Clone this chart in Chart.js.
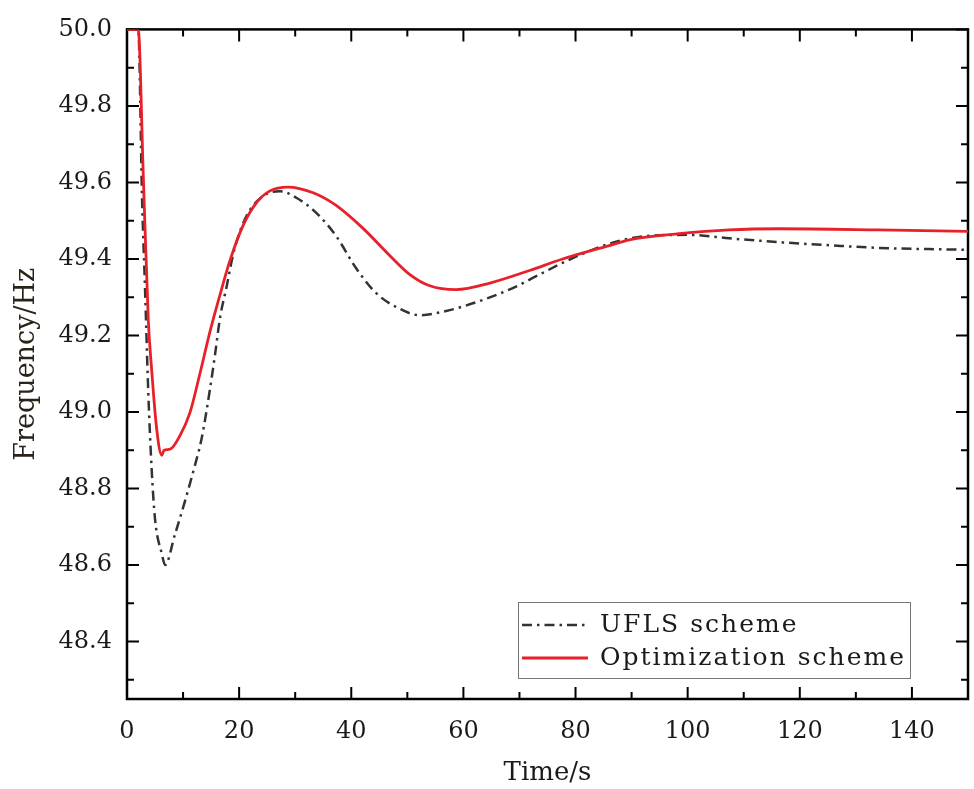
<!DOCTYPE html>
<html>
<head>
<meta charset="utf-8">
<script src="https://cdn.jsdelivr.net/npm/chart.js@4"></script>
<style>
  html, body { margin: 0; padding: 0; background: #fff; }
  #wrap { width: 974px; height: 789px; position: relative; }
</style>
</head>
<body>
<div id="wrap"><canvas id="chart"></canvas></div>
<script>
// values
const uflsTime = [0, 2.0, 2.7, 3.2, 3.8, 4.4, 5.0, 6.2, 6.8, 8.55, 10.3, 12.1, 13.3, 14.8, 15.7, 16.6, 17.8, 18.9, 20.1, 21.6, 24.3, 27.3, 30.2, 33.8, 37.3, 40.9, 44.5, 48.6, 52.2, 56.9, 62.9, 68.8, 73, 77.7, 80.7, 86, 92.6, 100.3, 107.4, 116.3, 125.2, 134, 150];
const uflsFreq = [50.0, 50.0, 49.55, 49.33, 49.05, 48.85, 48.72, 48.63, 48.60, 48.68, 48.765, 48.86, 48.93, 49.06, 49.15, 49.247, 49.33, 49.41, 49.47, 49.52, 49.565, 49.577, 49.56, 49.52, 49.46, 49.375, 49.31, 49.27, 49.253, 49.264, 49.29, 49.324, 49.355, 49.39, 49.41, 49.44, 49.46, 49.463, 49.454, 49.444, 49.436, 49.429, 49.424];

const optTime = [0, 2.0, 2.9, 3.8, 4.4, 5.3, 6.2, 6.6, 7.7, 9.4, 11.2, 13.0, 14.8, 16.6, 18.3, 20.7, 23.1, 25.5, 28.7, 33.2, 37.3, 42.1, 46.8, 50.4, 54, 58.7, 64.7, 71.8, 77.7, 86, 89.6, 98.5, 107.4, 116.3, 134, 150];
const optFreq = [50.0, 50.0, 49.62, 49.24, 49.11, 48.955, 48.887, 48.90, 48.903, 48.937, 48.997, 49.10, 49.21, 49.307, 49.393, 49.487, 49.547, 49.578, 49.588, 49.573, 49.54, 49.48, 49.41, 49.36, 49.33, 49.32, 49.337, 49.37, 49.40, 49.435, 49.45, 49.466, 49.476, 49.479, 49.476, 49.472];

const seriesNames = ['UFLS scheme', 'Optimization scheme'];
const xTicks = [0, 20, 40, 60, 80, 100, 120, 140];
const yTicks = [48.4, 48.6, 48.8, 49.0, 49.2, 49.4, 49.6, 49.8, 50.0];

const toPoints = (xs, ys) => xs.map((x, i) => ({ x: x, y: ys[i] }));

const FONT = '"DejaVu Serif", "Liberation Serif", serif';
const INK = '#1a1a1a';

// box, inward tick marks on all four sides, legend inside the plot
const framePlugin = {
  id: 'frame',
  beforeDatasetsDraw(chart) {
    const { ctx, chartArea: a, scales: { x, y } } = chart;
    ctx.save();
    ctx.strokeStyle = '#000';
    ctx.lineWidth = 2;
    ctx.beginPath();
    const xs = [];
    for (let i = 0; i < xTicks.length; i++) {
      xs.push([xTicks[i], 12]);
      const next = i + 1 < xTicks.length ? xTicks[i + 1] : xTicks[i] + 20;
      xs.push([(xTicks[i] + next) / 2, 7]);
    }
    xs.forEach(([v, len]) => {
      if (v >= x.max) return;
      const px = x.getPixelForValue(v);
      ctx.moveTo(px, a.bottom); ctx.lineTo(px, a.bottom - len);
      ctx.moveTo(px, a.top); ctx.lineTo(px, a.top + len);
    });
    const ys = [[yTicks[0] - 0.1, 7]];
    yTicks.forEach((v, i) => {
      ys.push([v, 12]);
      if (i + 1 < yTicks.length) ys.push([(v + yTicks[i + 1]) / 2, 7]);
    });
    ys.forEach(([v, len]) => {
      if (v < y.min) return;
      const py = y.getPixelForValue(v);
      ctx.moveTo(a.left, py); ctx.lineTo(a.left + len, py);
      ctx.moveTo(a.right, py); ctx.lineTo(a.right - len, py);
    });
    ctx.stroke();
    ctx.lineWidth = 2.5;
    ctx.strokeRect(a.left, a.top, a.right - a.left, a.bottom - a.top);
    ctx.restore();
  },
  afterDraw(chart) {
    const { ctx, chartArea: a } = chart;
    const boxW = 392, boxH = 76;
    const bx = a.right - 58 - boxW, by = a.bottom - 21 - boxH;
    ctx.save();
    ctx.fillStyle = '#fff';
    ctx.fillRect(bx, by, boxW, boxH);
    ctx.strokeStyle = '#777';
    ctx.lineWidth = 1;
    ctx.strokeRect(bx + 0.5, by + 0.5, boxW, boxH);
    ctx.font = '25px ' + FONT;
    ctx.textBaseline = 'middle';
    ctx.fillStyle = INK;
    // spread letters like the wide CJK-style font of the original
    const longest = seriesNames.reduce((m, s) => Math.max(m, ctx.measureText(s).width), 0);
    const longestLen = seriesNames.reduce((m, s) => Math.max(m, s.length), 0);
    const gap = Math.max(0, (304 - longest) / (longestLen - 1));
    chart.data.datasets.forEach((ds, i) => {
      const cy = by + 23 + i * 33;
      ctx.strokeStyle = ds.borderColor;
      ctx.lineWidth = ds.borderWidth;
      ctx.setLineDash(ds.borderDash || []);
      ctx.beginPath();
      ctx.moveTo(bx + 4, cy); ctx.lineTo(bx + 70, cy);
      ctx.stroke();
      ctx.setLineDash([]);
      let tx = bx + 82;
      for (const ch of ds.label) {
        ctx.fillText(ch, tx, cy);
        tx += ctx.measureText(ch).width + gap;
      }
    });
    ctx.restore();
  }
};

new Chart(document.getElementById('chart'), {
  type: 'line',
  data: {
    datasets: [
      {
        label: seriesNames[0],
        data: toPoints(uflsTime, uflsFreq),
        borderColor: '#333333',
        borderWidth: 2.5,
        borderDash: [10, 5, 2.5, 5],
        pointRadius: 0,
        cubicInterpolationMode: 'monotone',
        order: 2
      },
      {
        label: seriesNames[1],
        data: toPoints(optTime, optFreq),
        borderColor: '#e8202a',
        borderWidth: 2.8,
        pointRadius: 0,
        cubicInterpolationMode: 'monotone',
        order: 1
      }
    ]
  },
  options: {
    responsive: true,
    maintainAspectRatio: false,
    animation: false,
    layout: { padding: { top: 21, right: 6, left: 0, bottom: 0 } },
    plugins: {
      legend: { display: false },
      tooltip: { enabled: false }
    },
    scales: {
      x: {
        type: 'linear',
        min: 0,
        max: 150,
        afterBuildTicks: (s) => { s.ticks = xTicks.map(v => ({ value: v })); },
        afterFit: (s) => { s.height = 90; },
        grid: { display: false, drawTicks: false },
        border: { display: false },
        ticks: { padding: 18, color: INK, font: { family: FONT, size: 24 }, maxRotation: 0 },
        title: { display: true, text: 'Time/s', color: INK, font: { family: FONT, size: 26 }, padding: 0 }
      },
      y: {
        min: 48.25,
        max: 50.0,
        afterBuildTicks: (s) => { s.ticks = yTicks.map(v => ({ value: v })); },
        afterFit: (s) => { s.width = 127; },
        grid: { display: false, drawTicks: false },
        border: { display: false },
        ticks: { padding: 15, color: INK, font: { family: FONT, size: 24 }, callback: (v) => Number(v).toFixed(1) },
        title: { display: true, text: 'Frequency/Hz', color: '#2a2418', font: { family: FONT, size: 27 }, padding: { top: 11, bottom: 0 } }
      }
    }
  },
  plugins: [framePlugin]
});
</script>
</body>
</html>
